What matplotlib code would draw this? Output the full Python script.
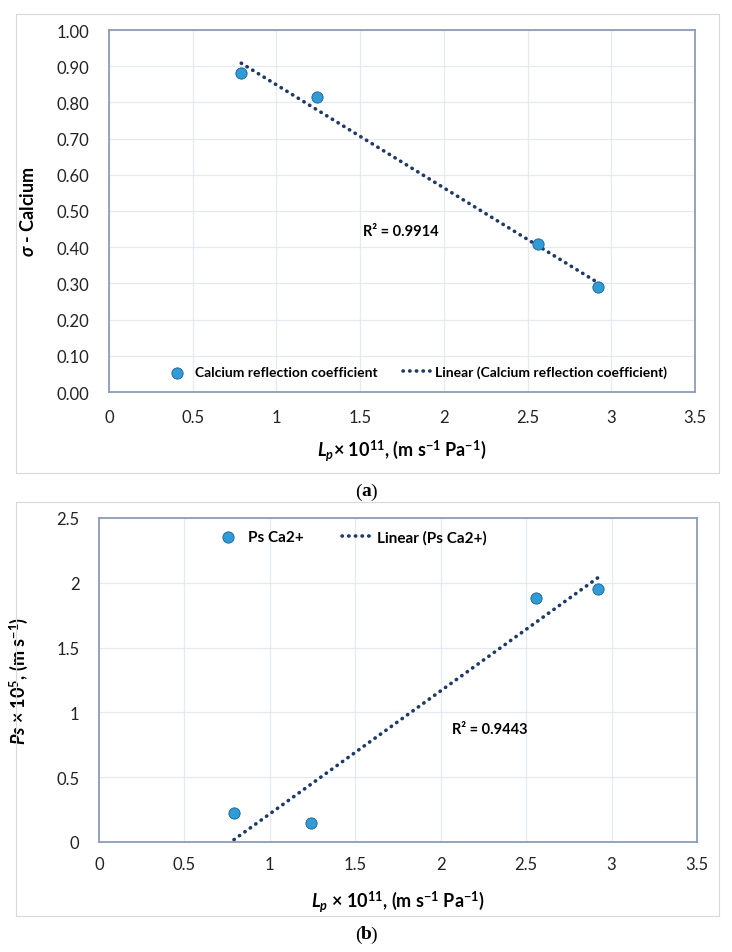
import numpy as np
import matplotlib
matplotlib.use("Agg")
import matplotlib.pyplot as plt
from matplotlib.patches import Rectangle

plt.rcParams['font.family'] = ['Lato', 'DejaVu Sans']
plt.rcParams['mathtext.fontset'] = 'custom'
plt.rcParams['mathtext.rm'] = 'Lato'
plt.rcParams['mathtext.bf'] = 'Lato:bold'
plt.rcParams['mathtext.it'] = 'Lato:italic'
plt.rcParams['mathtext.bfit'] = 'Lato:italic:bold'

# data
lp = [0.79, 1.24, 2.56, 2.92]          # Lp x 1e11
sigma_ca = [0.88, 0.815, 0.41, 0.29]   # reflection coefficient
ps_ca = [0.22, 0.15, 1.88, 1.95]       # Ps x 1e5

x_ticks = [0, 0.5, 1, 1.5, 2, 2.5, 3, 3.5]
y1_ticks = [0.0, 0.1, 0.2, 0.3, 0.4, 0.5, 0.6, 0.7, 0.8, 0.9, 1.0]
y2_ticks = [0, 0.5, 1, 1.5, 2, 2.5]
r2_top = "R² = 0.9914"
r2_bot = "R² = 0.9443"

W, H = 732, 953
fig = plt.figure(figsize=(W / 100, H / 100), dpi=100)

pt_col = '#2F9BD7'
line_col = '#1F3A66'
spine_col = '#8C9DB5'
grid_col = '#E6EAF0'


def box(px_l, px_t, px_r, px_b):
    return [px_l / W, 1 - px_b / H, (px_r - px_l) / W, (px_b - px_t) / H]


# outer chart frames
for t, b in [(15, 474), (503, 917)]:
    fig.patches.append(Rectangle((16 / W, 1 - b / H), (719 - 16) / W, (b - t) / H,
                                 transform=fig.transFigure, fill=False,
                                 edgecolor='#D9D9D9', lw=0.8))


def style(ax, yt):
    ax.set_xlim(0, 3.5)
    ax.set_xticks(x_ticks)
    ax.set_xticklabels(['%g' % v for v in x_ticks])
    ax.set_ylim(yt[0], yt[-1])
    ax.set_yticks(yt)
    ax.grid(True, color=grid_col, lw=0.9)
    ax.set_axisbelow(True)
    for s in ax.spines.values():
        s.set_color(spine_col)
        s.set_linewidth(1.3)
    ax.tick_params(length=0, labelsize=12, colors='#222222')


def trend(ax, x, y):
    k, c = np.polyfit(x, y, 1)
    xs = np.array([min(x), max(x)])
    l, = ax.plot(xs, k * xs + c, color=line_col, lw=2.6,
                 dashes=(0.1, 1.75), dash_capstyle='round', zorder=2)
    return l


# panel (a)
ax1 = fig.add_axes(box(109, 31, 695, 393))
style(ax1, y1_ticks)
ax1.set_yticklabels(['%.2f' % v for v in y1_ticks])
ax1.tick_params(axis='y', pad=14)
ax1.tick_params(axis='x', pad=12)
l1 = trend(ax1, lp, sigma_ca)
p1 = ax1.scatter(lp, sigma_ca, s=66, color=pt_col, edgecolor='#1F5F8F', lw=0.6, zorder=3)
ax1.set_ylabel(r'$\mathbfit{\sigma}$ - Calcium', fontsize=13, fontweight='bold')
ax1.yaxis.set_label_coords(-0.123, 0.5)
ax1.set_xlabel(r'$\mathbfit{L_p}$× 10$^{\mathbf{11}}$, (m s$^{\mathbf{-1}}$ Pa$^{\mathbf{-1}}$)',
               fontsize=13, fontweight='bold')
ax1.xaxis.set_label_coords(0.5, -0.125)
ax1.text(1.74, 0.445, r2_top, fontsize=10.5, fontweight='bold', ha='center', va='center')
ax1.legend([p1, l1], ['Calcium reflection coefficient',
                      'Linear (Calcium reflection coefficient)'],
           loc='center', bbox_to_anchor=(0.522, 0.055), ncol=2, frameon=False,
           prop={'weight': 'bold', 'size': 10}, handlelength=2, handletextpad=0.3,
           columnspacing=1.8)

# panel (b)
ax2 = fig.add_axes(box(99, 519, 697, 843))
style(ax2, y2_ticks)
ax2.set_yticklabels(['%g' % v for v in y2_ticks])
ax2.tick_params(axis='y', pad=14)
ax2.tick_params(axis='x', pad=10)
l2 = trend(ax2, lp, ps_ca)
p2 = ax2.scatter(lp, ps_ca, s=66, color=pt_col, edgecolor='#1F5F8F', lw=0.6, zorder=3)
ax2.set_ylabel(r'$\mathbfit{Ps}$ × 10$^{\mathbf{5}}$, (m s$^{\mathbf{-1}}$)',
               fontsize=13, fontweight='bold')
ax2.yaxis.set_label_coords(-0.115, 0.5)
ax2.set_xlabel(r'$\mathbfit{L_p}$ × 10$^{\mathbf{11}}$, (m s$^{\mathbf{-1}}$ Pa$^{\mathbf{-1}}$)',
               fontsize=13, fontweight='bold')
ax2.xaxis.set_label_coords(0.5, -0.145)
ax2.text(2.29, 0.87, r2_bot, fontsize=10.5, fontweight='bold', ha='center', va='center')
ax2.legend([p2, l2], ['Ps Ca2+', 'Linear (Ps Ca2+)'],
           loc='center', bbox_to_anchor=(0.42, 0.941), ncol=2, frameon=False,
           prop={'weight': 'bold', 'size': 11}, handlelength=2, handletextpad=0.3,
           columnspacing=2.5)

# panel letters
for lab, ypx in [('a', 492), ('b', 935)]:
    y = 1 - ypx / H
    fig.text(0.5, y, lab, family='Liberation Serif', fontsize=14, fontweight='bold',
             ha='center', va='center')
    fig.text(0.5 - 4.5 / W, y, '(', family='Liberation Serif', fontsize=14,
             ha='right', va='center')
    fig.text(0.5 + 4.5 / W, y, ')', family='Liberation Serif', fontsize=14,
             ha='left', va='center')

fig.savefig('out.png', dpi=100)
